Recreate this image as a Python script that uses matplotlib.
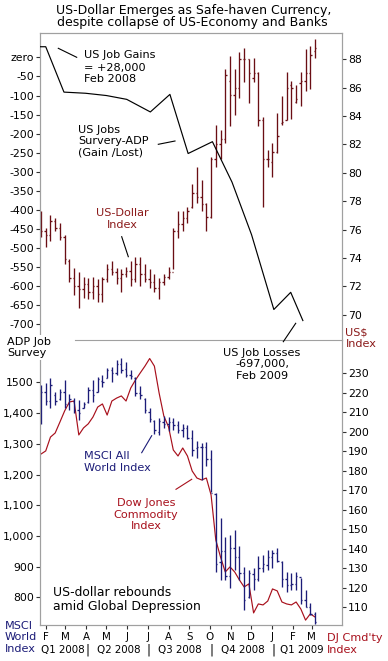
import numpy as np
import pandas as pd
import matplotlib
matplotlib.use("Agg")
from matplotlib import pyplot as plt
from matplotlib.lines import Line2D
import matplotlib.dates as mdates

# ---------------- DATA ----------------
# weekly bars (Fridays) from 2008-01-25
week_dates = pd.date_range("2008-01-25", periods=59, freq="7D")

usd_high = [77.3, 76.1, 77.0, 76.8, 76.5, 75.6, 73.9, 73.3, 73.0, 72.7, 72.6, 72.7, 72.5, 72.7,
            73.6, 73.8, 73.3, 73.2, 73.4, 73.8, 74.1, 74.1, 73.6, 73.2, 72.9, 72.6, 72.9, 73.4,
            76.1, 77.3, 77.3, 77.6, 79.2, 80.4, 79.5, 77.9, 81.1, 83.4, 83.0, 87.3, 88.2, 87.3,
            88.5, 88.8, 88.0, 88.1, 87.1, 83.9, 81.6, 82.1, 84.2, 85.4, 87.1, 86.5, 86.2, 87.1,
            88.7, 88.9, 89.4]
usd_low = [75.5, 74.8, 75.2, 75.9, 75.3, 73.6, 72.3, 71.4, 70.5, 71.2, 71.1, 71.1, 70.9, 70.9,
           72.3, 72.8, 72.2, 71.6, 72.7, 72.0, 72.3, 72.0, 72.3, 71.9, 71.6, 71.1, 72.1, 72.5,
           73.2, 75.4, 75.9, 76.5, 77.5, 77.9, 77.3, 75.9, 76.8, 80.4, 81.0, 82.1, 83.3, 84.1,
           85.3, 86.4, 84.9, 86.4, 83.3, 77.6, 80.4, 79.7, 81.4, 83.4, 83.7, 83.8, 84.9, 84.7,
           85.8, 85.9, 88.1]
usd_open = [77.0, 75.9, 75.6, 76.6, 76.1, 75.5, 73.8, 72.6, 72.0, 71.8, 72.2, 71.6, 72.0, 71.5,
            72.5, 73.2, 73.0, 72.6, 72.9, 73.1, 72.5, 73.6, 72.9, 72.5, 72.3, 71.9, 72.3, 72.7,
            73.0, 75.9, 76.4, 76.8, 77.6, 78.6, 78.3, 77.8, 76.9, 81.0, 82.0, 82.4, 86.5, 85.5,
            86.0, 88.0, 88.0, 86.7, 87.0, 83.7, 81.0, 80.8, 81.5, 83.5, 83.7, 86.2, 85.0, 86.3,
            86.5, 87.0, 88.6]
usd_close = [75.9, 75.6, 76.6, 76.1, 75.5, 73.9, 72.6, 72.0, 71.8, 72.2, 71.6, 72.0, 71.5, 72.5,
             73.2, 73.0, 72.6, 72.9, 73.1, 72.5, 73.6, 72.9, 72.5, 72.3, 71.9, 72.3, 72.7, 73.0,
             75.9, 76.4, 76.8, 77.3, 78.6, 78.3, 77.8, 76.9, 81.0, 82.0, 82.4, 86.9, 85.5, 86.0,
             88.0, 88.0, 87.0, 87.0, 83.7, 81.0, 81.0, 81.5, 82.6, 83.6, 86.0, 86.0, 85.2, 86.5,
             87.0, 88.3, 88.8]

msci_high = [1491, 1497, 1513, 1469, 1480, 1507, 1461, 1448, 1442, 1437, 1486, 1507, 1518, 1524,
             1546, 1551, 1573, 1578, 1567, 1540, 1517, 1488, 1449, 1417, 1377, 1384, 1390, 1387,
             1384, 1374, 1364, 1361, 1345, 1309, 1302, 1306, 1280, 1140, 1058, 996, 1003, 1019,
             967, 899, 889, 896, 935, 938, 954, 954, 960, 918, 882, 879, 882, 863, 824, 782, 753]
msci_low = [1366, 1425, 1415, 1426, 1442, 1415, 1410, 1399, 1377, 1415, 1432, 1437, 1469, 1486,
            1513, 1502, 1524, 1529, 1518, 1511, 1455, 1446, 1400, 1371, 1332, 1329, 1351, 1341,
            1345, 1335, 1322, 1315, 1260, 1254, 1182, 1227, 1143, 883, 857, 857, 830, 889,
            857, 758, 798, 824, 853, 882, 889, 895, 915, 833, 817, 824, 824, 778, 768, 742, 713]
msci_open = [1380, 1470, 1440, 1460, 1445, 1470, 1430, 1440, 1410, 1415, 1435, 1475, 1470, 1505,
             1515, 1540, 1530, 1560, 1545, 1525, 1515, 1465, 1445, 1405, 1375, 1340, 1370, 1365,
             1370, 1360, 1345, 1350, 1320, 1285, 1290, 1290, 1250, 1135, 915, 950, 870, 960,
             930, 880, 800, 875, 860, 895, 905, 930, 945, 915, 860, 840, 845, 865, 790, 770, 745]
msci_close = [1470, 1440, 1490, 1440, 1470, 1430, 1445, 1410, 1400, 1430, 1475, 1460, 1510, 1500,
              1540, 1530, 1560, 1540, 1525, 1520, 1465, 1460, 1410, 1380, 1345, 1375, 1365, 1370,
              1360, 1345, 1350, 1320, 1280, 1290, 1290, 1250, 1140, 910, 950, 870, 960, 930,
              880, 790, 880, 860, 895, 910, 930, 945, 920, 860, 840, 845, 870, 790, 770, 745, 720]

djc_index = [188.6, 190.2, 197.3, 199.4, 205.0, 210.7, 215.3, 215.8, 198.4, 202.0, 204.1, 207.6,
             212.7, 214.3, 208.6, 215.8, 217.3, 218.4, 215.8, 222.5, 226.6, 230.2, 233.7, 237.6,
             233.7, 219.9, 208.1, 202.5, 190.7, 187.6, 191.7, 187.6, 179.9, 176.3, 175.3, 176.3,
             167.6, 144.5, 135.8, 128.1, 130.7, 128.1, 124.0, 120.4, 122.0, 107.1, 111.7, 111.2,
             113.2, 119.4, 118.4, 112.7, 111.7, 111.2, 112.7, 109.1, 103.4, 106.6, 105.0]

adp_dates = ["2008-01-23", "2008-02-01", "2008-02-28", "2008-03-31", "2008-05-01", "2008-05-31",
             "2008-07-05", "2008-08-03", "2008-08-30", "2008-10-05", "2008-11-03", "2008-12-02",
             "2009-01-04", "2009-01-29", "2009-02-16"]
adp_jobs = [28, 28, -91, -94, -100, -110, -143, -97, -252, -221, -327, -465, -661, -616, -690]

month_letters = ["F", "M", "A", "M", "J", "J", "A", "S", "O", "N", "D", "J", "F", "M"]
quarter_labels = ["Q1 2008", "Q2 2008", "Q3 2008", "Q4 2008", "Q1 2009"]

# ---------------- LAYOUT ----------------
W, H = 388, 661
fig = plt.figure(figsize=(W / 100, H / 100), dpi=100)
plt.rcParams["font.family"] = "DejaVu Sans"


def box(x0, y0, x1, y1):
    return [x0 / W, 1 - y1 / H, (x1 - x0) / W, (y1 - y0) / H]


def fx(x):
    return x / W


def fy(y):
    return 1 - y / H


usd_col = "#6a0e14"
msci_col = "#1c1c78"
djc_col = "#a8101c"
frame_col = "#a0a0a0"
tick_fs = 7.8
xtick_fs = 7.4
note_fs = 8.1

x = mdates.date2num(week_dates.to_pydatetime())
xlim = (mdates.date2num(pd.Timestamp("2008-01-23 12:00")), mdates.date2num(pd.Timestamp("2009-04-15")))
tick_len = 2.0


def ohlc(ax, o, h, l, c, color):
    ax.vlines(x, l, h, color=color, lw=0.95)
    ax.hlines(o, x - tick_len, x, color=color, lw=0.95)
    ax.hlines(c, x, x + tick_len, color=color, lw=0.95)


def style(ax, side):
    for s in ax.spines.values():
        s.set_color(frame_col)
        s.set_linewidth(0.8)
    ax.tick_params(axis="y", which="both", direction="out", length=3, width=0.8,
                   color="#333333", labelsize=tick_fs, pad=1.5,
                   left=(side == "left"), labelleft=(side == "left"),
                   right=(side == "right"), labelright=(side == "right"))


# top panel
ax1 = fig.add_axes(box(40, 33, 342, 340))
ax1.set_xlim(xlim)
ax1.set_ylim(-741, 64)
adp_x = mdates.date2num(pd.to_datetime(adp_dates).to_pydatetime())
ax1.plot(adp_x, adp_jobs, color="black", lw=0.85, zorder=3)
ax1.set_yticks(range(0, -701, -50))
ax1.set_yticklabels(["zero"] + [str(v) for v in range(-50, -701, -50)])
ax1.set_xticks([])
style(ax1, "left")
ax1.spines["bottom"].set_visible(False)

ax1r = ax1.twinx()
ax1r.set_ylim(68.23, 89.85)
ohlc(ax1r, usd_open, usd_high, usd_low, usd_close, usd_col)
ax1r.set_yticks(range(70, 89, 2))
style(ax1r, "right")
ax1r.spines["bottom"].set_visible(False)
ax1.set_zorder(ax1r.get_zorder() + 1)
ax1.patch.set_visible(False)

# bottom panel
ax2 = fig.add_axes(box(40, 340, 342, 625))
ax2.set_xlim(xlim)
ax2.set_ylim(710, 1638)
ohlc(ax2, msci_open, msci_high, msci_low, msci_close, msci_col)
ax2.set_yticks(range(800, 1501, 100))
ax2.set_yticklabels(["800", "900", "1,000", "1,100", "1,200", "1,300", "1,400", "1500"])
style(ax2, "left")
ax2.spines["top"].set_visible(False)

month_starts = pd.date_range("2008-02-01", "2009-03-01", freq="MS")
ax2.set_xticks(mdates.date2num(month_starts.to_pydatetime()))
ax2.set_xticklabels(month_letters)
ax2.tick_params(axis="x", direction="out", length=3, width=0.8, color="#333333",
                labelsize=xtick_fs, pad=2)

ax2r = ax2.twinx()
ax2r.set_ylim(100.9, 247.1)
ax2r.plot(x, djc_index, color=djc_col, lw=0.85)
ax2r.set_yticks(range(110, 231, 10))
style(ax2r, "right")
ax2r.spines["top"].set_visible(False)
ax2.set_zorder(ax2r.get_zorder() + 1)
ax2.patch.set_visible(False)

# divider between the panels
ax2.plot([35 / 302, 1], [1, 1], transform=ax2.transAxes, color=frame_col, lw=0.8, clip_on=False)

# quarter row
q_pos = ["2008-02-26", "2008-05-19", "2008-08-18", "2008-11-19", "2009-02-15"]
for lab, d in zip(quarter_labels, q_pos):
    ax2.text(mdates.date2num(pd.Timestamp(d)), -25 / 285, lab, transform=ax2.get_xaxis_transform(),
             ha="center", va="center", fontsize=xtick_fs)
for d in ["2008-04-03", "2008-07-03", "2008-10-03", "2009-01-03"]:
    ax2.text(mdates.date2num(pd.Timestamp(d)), -25 / 285, "|", transform=ax2.get_xaxis_transform(),
             ha="center", va="center", fontsize=8.5)

# ---------------- TEXT ----------------
fig.text(fx(194), fy(10.5), "US-Dollar Emerges as Safe-haven Currency,", ha="center", va="center", fontsize=9.0)
fig.text(fx(192), fy(22.7), "despite collapse of US-Economy and Banks", ha="center", va="center", fontsize=9.0)

fig.text(fx(84), fy(67.5), "US Job Gains\n= +28,000\nFeb 2008", ha="left", va="center",
         fontsize=note_fs, linespacing=1.25)
fig.text(fx(78), fy(141.5), "US Jobs\nSurvery-ADP\n(Gain /Lost)", ha="left", va="center",
         fontsize=note_fs, linespacing=1.18)
fig.text(fx(122), fy(219.5), "US-Dollar\nIndex", ha="center", va="center", fontsize=note_fs,
         color="#8b1a1a", linespacing=1.25)
fig.text(fx(262), fy(364.5), "US Job Losses\n-697,000,\nFeb 2009", ha="center", va="center",
         fontsize=note_fs, linespacing=1.23)
fig.text(fx(7), fy(347.5), "ADP Job\nSurvey", ha="left", va="center", fontsize=note_fs,
         linespacing=1.24, bbox=dict(facecolor="white", edgecolor="none", pad=1))
fig.text(fx(345.5), fy(338), "US$\nIndex", ha="left", va="center", fontsize=note_fs,
         color="#8b1a1a", linespacing=1.24)
fig.text(fx(84), fy(462), "MSCI All\nWorld Index", ha="left", va="center", fontsize=note_fs,
         color=msci_col, linespacing=1.24)
fig.text(fx(146), fy(514.5), "Dow Jones\nCommodity\nIndex", ha="center", va="center", fontsize=note_fs,
         color=djc_col, linespacing=1.22)
fig.text(fx(53), fy(599.5), "US-dollar rebounds\namid Global Depression", ha="left", va="center",
         fontsize=8.9, linespacing=1.12)
fig.text(fx(5), fy(637.5), "MSCI\nWorld\nIndex", ha="left", va="center", fontsize=note_fs,
         color=msci_col, linespacing=1.23)
fig.text(fx(327), fy(644), "DJ Cmd'ty\nIndex", ha="left", va="center", fontsize=note_fs,
         color=djc_col, linespacing=1.23)

# pointer lines
pointers = [((58.3, 48.3), (76.7, 57.3), "black"),
            ((158.3, 144.3), (175, 141), "black"),
            ((121.7, 236.7), (128.3, 256.7), "black"),
            ((283.3, 341.7), (295.7, 323.3), "black"),
            ((141.7, 452.7), (151.7, 435.7), msci_col),
            ((176, 489.3), (191.7, 479.3), djc_col)]
for (x0, y0), (x1, y1), c in pointers:
    fig.add_artist(Line2D([fx(x0), fx(x1)], [fy(y0), fy(y1)], transform=fig.transFigure,
                          color=c, lw=0.8))

plt.savefig("out.png", dpi=100)
